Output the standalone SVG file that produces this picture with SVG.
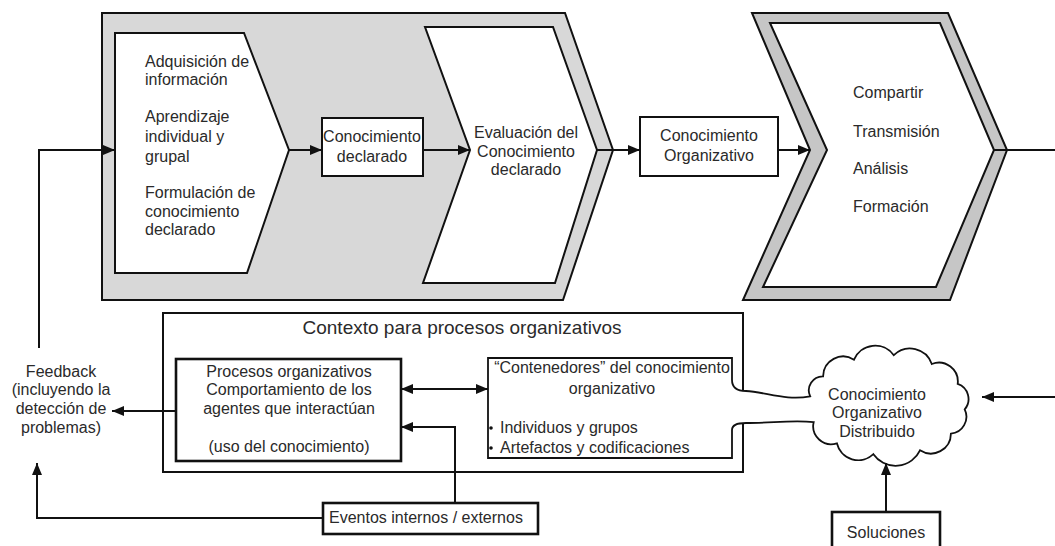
<svg xmlns="http://www.w3.org/2000/svg" width="1055" height="546" viewBox="0 0 1055 546">
<defs>
<style>
text{font-family:"Liberation Sans",Arial,sans-serif;font-size:16px;fill:#2a2a2a}
.c{text-anchor:middle}
.ln{fill:none;stroke:#111;stroke-width:2}
.bx{fill:#fff;stroke:#111;stroke-width:2}
.bx2{fill:#fff;stroke:#111;stroke-width:2.6}
.ar{marker-end:url(#ah)}
</style>
<marker id="ah" viewBox="0 0 12 10" refX="12" refY="5" markerWidth="12" markerHeight="10" markerUnits="userSpaceOnUse" orient="auto-start-reverse">
<path d="M0,0 L12,5 L0,10 Z" fill="#111"/>
</marker>
</defs>
<rect width="1055" height="546" fill="#fff"/>

<g id="fase-creacion">
<polygon points="102,13 565,13 613,150 563,300 102,300" fill="#d8d8d8" stroke="#111" stroke-width="2"/>
</g>
<g id="creacion">
<polygon class="bx" points="115,33 244,33 289,150 247,273 115,273"/>
<text x="145" y="67">Adquisición de</text>
<text x="145" y="85">información</text>
<text x="145" y="122">Aprendizaje</text>
<text x="145" y="142">individual y</text>
<text x="145" y="162">grupal</text>
<text x="145" y="198">Formulación de</text>
<text x="145" y="217">conocimiento</text>
<text x="145" y="235">declarado</text>
</g>
<g id="conoc-declarado">
<rect class="bx" x="322" y="118" width="101" height="58"/>
<text class="c" x="372" y="142">Conocimiento</text>
<text class="c" x="372" y="162">declarado</text>
</g>
<g id="evaluacion">
<polygon class="bx" points="425,27 553,27 597,150 555,283 423,283 470,150"/>
<text class="c" x="526" y="138">Evaluación del</text>
<text class="c" x="526" y="157">Conocimiento</text>
<text class="c" x="526" y="175">declarado</text>
</g>
<g id="conoc-organizativo">
<rect class="bx" x="640" y="117" width="138" height="59"/>
<text class="c" x="709" y="141">Conocimiento</text>
<text class="c" x="709" y="161">Organizativo</text>
</g>
<g id="difusion">
<polygon points="752,13 948,13 1007,150 950,300 743,300 810,150" fill="#c6c6c6" stroke="#111" stroke-width="2"/>
<polygon class="bx" points="770,23 940,23 994,150 936,287 763,287 827,150"/>
<text x="853" y="98">Compartir</text>
<text x="853" y="137">Transmisión</text>
<text x="853" y="174">Análisis</text>
<text x="853" y="212">Formación</text>
</g>

<g id="feedback">
<text class="c" x="61" y="377">Feedback</text>
<text class="c" x="61" y="395">(incluyendo la</text>
<text class="c" x="61" y="414">detección de</text>
<text class="c" x="61" y="433">problemas)</text>
</g>
<g id="contexto">
<rect x="163" y="313" width="580" height="159" fill="none" stroke="#111" stroke-width="2"/>
<text class="c" x="462" y="334" style="font-size:19px">Contexto para procesos organizativos</text>
</g>
<g id="procesos">
<rect class="bx2" x="176" y="359" width="225" height="102"/>
<text class="c" x="289" y="377">Procesos organizativos</text>
<text class="c" x="289" y="395">Comportamiento de los</text>
<text class="c" x="289" y="414">agentes que interactúan</text>
<text class="c" x="289" y="452">(uso del conocimiento)</text>
</g>
<g id="contenedores">
<path d="M732,380 V358 H488 V458 H732 V430" fill="#fff" stroke="#111" stroke-width="1.8"/>
<text class="c" x="612" y="373">“Contenedores” del conocimiento</text>
<text class="c" x="612" y="394">organizativo</text>
<circle cx="491" cy="428" r="1.8" fill="#111"/>
<circle cx="491" cy="448" r="1.8" fill="#111"/>
<text x="500" y="433">Individuos y grupos</text>
<text x="500" y="453">Artefactos y codificaciones</text>
</g>
<g id="nube">
<path d="M732,380 Q732,391 746,391 C766,392 786,401 810.2,396.3 A14,14 0 0 1 823.1,376.3 A20,20 0 0 1 854,359.7 A23,23 0 0 1 893.8,355.2 A23,23 0 0 1 931.8,364 A19,19 0 0 1 957.7,383.9 A16,16 0 0 1 964.7,409.4 A17,17 0 0 1 950.9,433.7 A20,20 0 0 1 920,450.3 A27,27 0 0 1 873.4,454.2 A22,22 0 0 1 836.9,443.3 A18,18 0 0 1 813.7,422.1 C792,420 772,423 746,423 Q732,423 732,430" fill="#fff" stroke="#111" stroke-width="1.8"/>
<text class="c" x="877" y="400">Conocimiento</text>
<text class="c" x="877" y="418">Organizativo</text>
<text class="c" x="877" y="437">Distribuido</text>
</g>
<g id="eventos">
<rect class="bx2" x="323" y="503" width="215" height="31"/>
<text x="329" y="523">Eventos internos / externos</text>
</g>
<g id="soluciones">
<rect class="bx2" x="832" y="512" width="108" height="40"/>
<text class="c" x="886" y="538">Soluciones</text>
</g>

<g id="connectors">
<path class="ln ar" d="M39,348 V150 H115"/>
<path class="ln ar" d="M289,150 H322"/>
<path class="ln ar" d="M423,150 H470"/>
<path class="ln ar" d="M597,150 H640"/>
<path class="ln ar" d="M778,150 H810"/>
<path class="ln" d="M994,150 H1055"/>
<path class="ln ar" d="M176,411 H112"/>
<path class="ln ar" d="M401,389 H488" marker-start="url(#ah)"/>
<path class="ln ar" d="M455,503 V427 H401"/>
<path class="ln ar" d="M323,518 H37 V463"/>
<path class="ln ar" d="M1055,397 H982"/>
<path class="ln ar" d="M886,512 V463"/>
</g>
</svg>
